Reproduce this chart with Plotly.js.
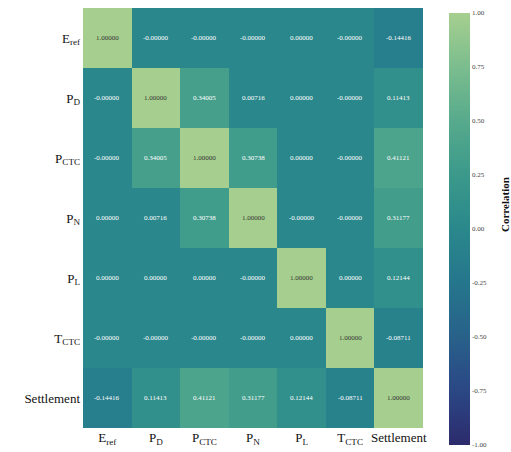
<!DOCTYPE html>
<html>
<head>
<meta charset="utf-8">
<script src="https://cdn.plot.ly/plotly-3.0.1.min.js"></script>
<style>html,body{margin:0;padding:0;background:#fff;}#chart{width:511px;height:452px;}</style>
</head>
<body>
<div id="chart"></div>
<script>
const labels = ["E<sub>ref</sub>", "P<sub>D</sub>", "P<sub>CTC</sub>", "P<sub>N</sub>", "P<sub>L</sub>", "T<sub>CTC</sub>", "Settlement"];

const rowEref       = [1.0, -0, -0, -0, 0.0, -0, -0.14416];
const rowPD         = [-0, 1.0, 0.34005, 0.00716, 0.0, -0, 0.11413];
const rowPCTC       = [-0, 0.34005, 1.0, 0.30738, 0.0, -0, 0.41121];
const rowPN         = [0.0, 0.00716, 0.30738, 1.0, -0, -0, 0.31177];
const rowPL         = [0.0, 0.0, 0.0, -0, 1.0, 0.0, 0.12144];
const rowTCTC       = [-0, -0, -0, -0, 0.0, 1.0, -0.08711];
const rowSettlement = [-0.14416, 0.11413, 0.41121, 0.31177, 0.12144, -0.08711, 1.0];

const z = [rowEref, rowPD, rowPCTC, rowPN, rowPL, rowTCTC, rowSettlement];

const cbTickVals = [-1, -0.75, -0.5, -0.25, 0, 0.25, 0.5, 0.75, 1];
const cbTickText = ["-1.00", "-0.75", "-0.50", "-0.25", "0.00", "0.25", "0.50", "0.75", "1.00"];
const cbTitle = "Correlation";

function fmt(v) {
  const s = Math.abs(v).toFixed(5);
  return ((v < 0 || Object.is(v, -0)) ? "-" : "") + s;
}

const crest = [
  [0.0, '#2c2b6c'],
  [0.125, '#2b4785'],
  [0.25, '#28618a'],
  [0.375, '#25768c'],
  [0.5, '#2a888c'],
  [0.625, '#3b998b'],
  [0.75, '#57aa8c'],
  [0.875, '#7bbd8e'],
  [1.0, '#a6cf8f']
];

const annotations = [];
z.forEach((row, i) => {
  row.forEach((v, j) => {
    annotations.push({
      x: labels[j], y: labels[i], xref: 'x', yref: 'y',
      text: fmt(v), showarrow: false,
      font: {family: 'Liberation Serif, serif', size: 7, color: v > 0.6 ? '#333333' : '#ffffff'}
    });
  });
});
annotations.push({
  xref: 'paper', yref: 'paper', x: (505 - 83) / 340, y: 0.531,
  xanchor: 'center', yanchor: 'middle', textangle: -90,
  text: '<b>' + cbTitle + '</b>', showarrow: false,
  font: {family: 'Liberation Serif, serif', size: 11, color: '#111'}
});

const trace = {
  type: 'heatmap',
  x: labels, y: labels, z: z,
  zmin: -1, zmax: 1,
  colorscale: crest,
  xgap: 0, ygap: 0,
  hoverinfo: 'skip',
  colorbar: {
    x: 1.047, xanchor: 'left', xref: 'paper',
    y: 0.474, yanchor: 'middle',
    lenmode: 'pixels', len: 452,
    thickness: 21, outlinewidth: 0,
    tickmode: 'array', tickvals: cbTickVals, ticktext: cbTickText,
    ticks: '', ticklen: 0,
    tickfont: {family: 'Liberation Serif, serif', size: 7, color: '#444'}
  }
};

const layout = {
  width: 511, height: 452,
  margin: {l: 83, r: 88, t: 8, b: 24},
  paper_bgcolor: '#ffffff', plot_bgcolor: '#ffffff',
  xaxis: {type: 'category', showgrid: false, zeroline: false, ticks: '', showline: false,
          tickfont: {family: 'Liberation Serif, serif', size: 13, color: '#111'}},
  yaxis: {type: 'category', autorange: 'reversed', showgrid: false, zeroline: false, ticks: '', showline: false,
          ticklabelstandoff: 2,
          tickfont: {family: 'Liberation Serif, serif', size: 13, color: '#111'}},
  annotations: annotations,
  showlegend: false
};

Plotly.newPlot('chart', [trace], layout, {displayModeBar: false, staticPlot: true});
</script>
</body>
</html>
